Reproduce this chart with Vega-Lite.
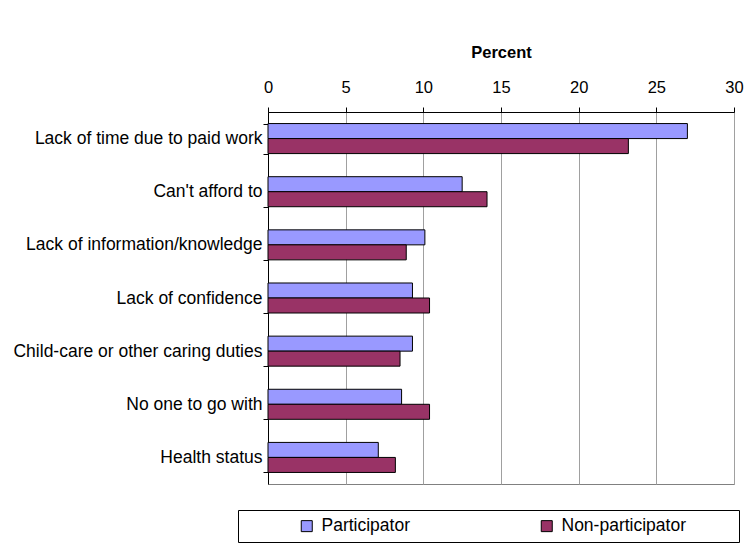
{
  "$schema": "https://vega.github.io/schema/vega-lite/v6.json",
  "width": 466,
  "height": 372,
  "autosize": {"type": "none"},
  "padding": {"left": 268, "top": 112, "right": 14, "bottom": 72},
  "background": "white",
  "data": {
    "values": [
      {"reason": "Lack of time due to paid work", "group": "Participator", "percent": 27.0},
      {"reason": "Lack of time due to paid work", "group": "Non-participator", "percent": 23.2},
      {"reason": "Can't afford to", "group": "Participator", "percent": 12.5},
      {"reason": "Can't afford to", "group": "Non-participator", "percent": 14.1},
      {"reason": "Lack of information/knowledge", "group": "Participator", "percent": 10.1},
      {"reason": "Lack of information/knowledge", "group": "Non-participator", "percent": 8.9},
      {"reason": "Lack of confidence", "group": "Participator", "percent": 9.3},
      {"reason": "Lack of confidence", "group": "Non-participator", "percent": 10.4},
      {"reason": "Child-care or other caring duties", "group": "Participator", "percent": 9.3},
      {"reason": "Child-care or other caring duties", "group": "Non-participator", "percent": 8.5},
      {"reason": "No one to go with", "group": "Participator", "percent": 8.6},
      {"reason": "No one to go with", "group": "Non-participator", "percent": 10.4},
      {"reason": "Health status", "group": "Participator", "percent": 7.1},
      {"reason": "Health status", "group": "Non-participator", "percent": 8.2}
    ]
  },
  "mark": {"type": "bar", "stroke": "black", "strokeWidth": 1},
  "encoding": {
    "y": {
      "field": "reason",
      "type": "nominal",
      "sort": [
        "Lack of time due to paid work",
        "Can't afford to",
        "Lack of information/knowledge",
        "Lack of confidence",
        "Child-care or other caring duties",
        "No one to go with",
        "Health status"
      ],
      "scale": {"paddingInner": 0.435, "paddingOuter": 0.2175},
      "axis": {
        "title": null,
        "grid": false,
        "tickBand": "extent",
        "ticks": true,
        "tickSize": 5,
        "tickColor": "black",
        "domainColor": "black",
        "labelPadding": 1,
        "labelFont": "Liberation Sans",
        "labelFontSize": 17.5,
        "labelColor": "black",
        "labelLimit": 300
      }
    },
    "yOffset": {
      "field": "group",
      "sort": ["Participator", "Non-participator"],
      "scale": {"paddingInner": 0, "paddingOuter": 0}
    },
    "x": {
      "field": "percent",
      "type": "quantitative",
      "scale": {"domain": [0, 30], "nice": false},
      "axis": {
        "orient": "top",
        "title": "Percent",
        "titleFont": "Liberation Sans",
        "titleFontSize": 16.5,
        "titleFontWeight": "bold",
        "titleColor": "black",
        "titlePadding": 19,
        "values": [0, 5, 10, 15, 20, 25, 30],
        "tickSize": 5,
        "tickColor": "black",
        "domainColor": "black",
        "labelPadding": 12,
        "labelFont": "Liberation Sans",
        "labelFontSize": 16.5,
        "labelColor": "black",
        "labelFlush": false,
        "gridColor": "#a0a0a0",
        "gridOpacity": 1
      }
    },
    "color": {
      "field": "group",
      "type": "nominal",
      "sort": ["Participator", "Non-participator"],
      "scale": {"domain": ["Participator", "Non-participator"], "range": ["#9999FF", "#993366"]},
      "legend": {
        "title": " ",
        "titleOrient": "right",
        "titlePadding": 46,
        "titleFontSize": 17.5,
        "orient": "none",
        "legendX": -30,
        "legendY": 398,
        "direction": "horizontal",
        "columns": 2,
        "padding": 7,
        "symbolOffset": 53,
        "columnPadding": 74,
        "strokeColor": "black",
        "fillColor": "white",
        "symbolType": "square",
        "symbolSize": 121,
        "symbolStrokeColor": "black",
        "symbolStrokeWidth": 1,
        "symbolOpacity": 1,
        "labelFont": "Liberation Sans",
        "labelFontSize": 17.5,
        "labelColor": "black",
        "labelOffset": 6,
        "labelLimit": 400
      }
    }
  },
  "config": {
    "view": {"stroke": "#808080"}
  }
}
